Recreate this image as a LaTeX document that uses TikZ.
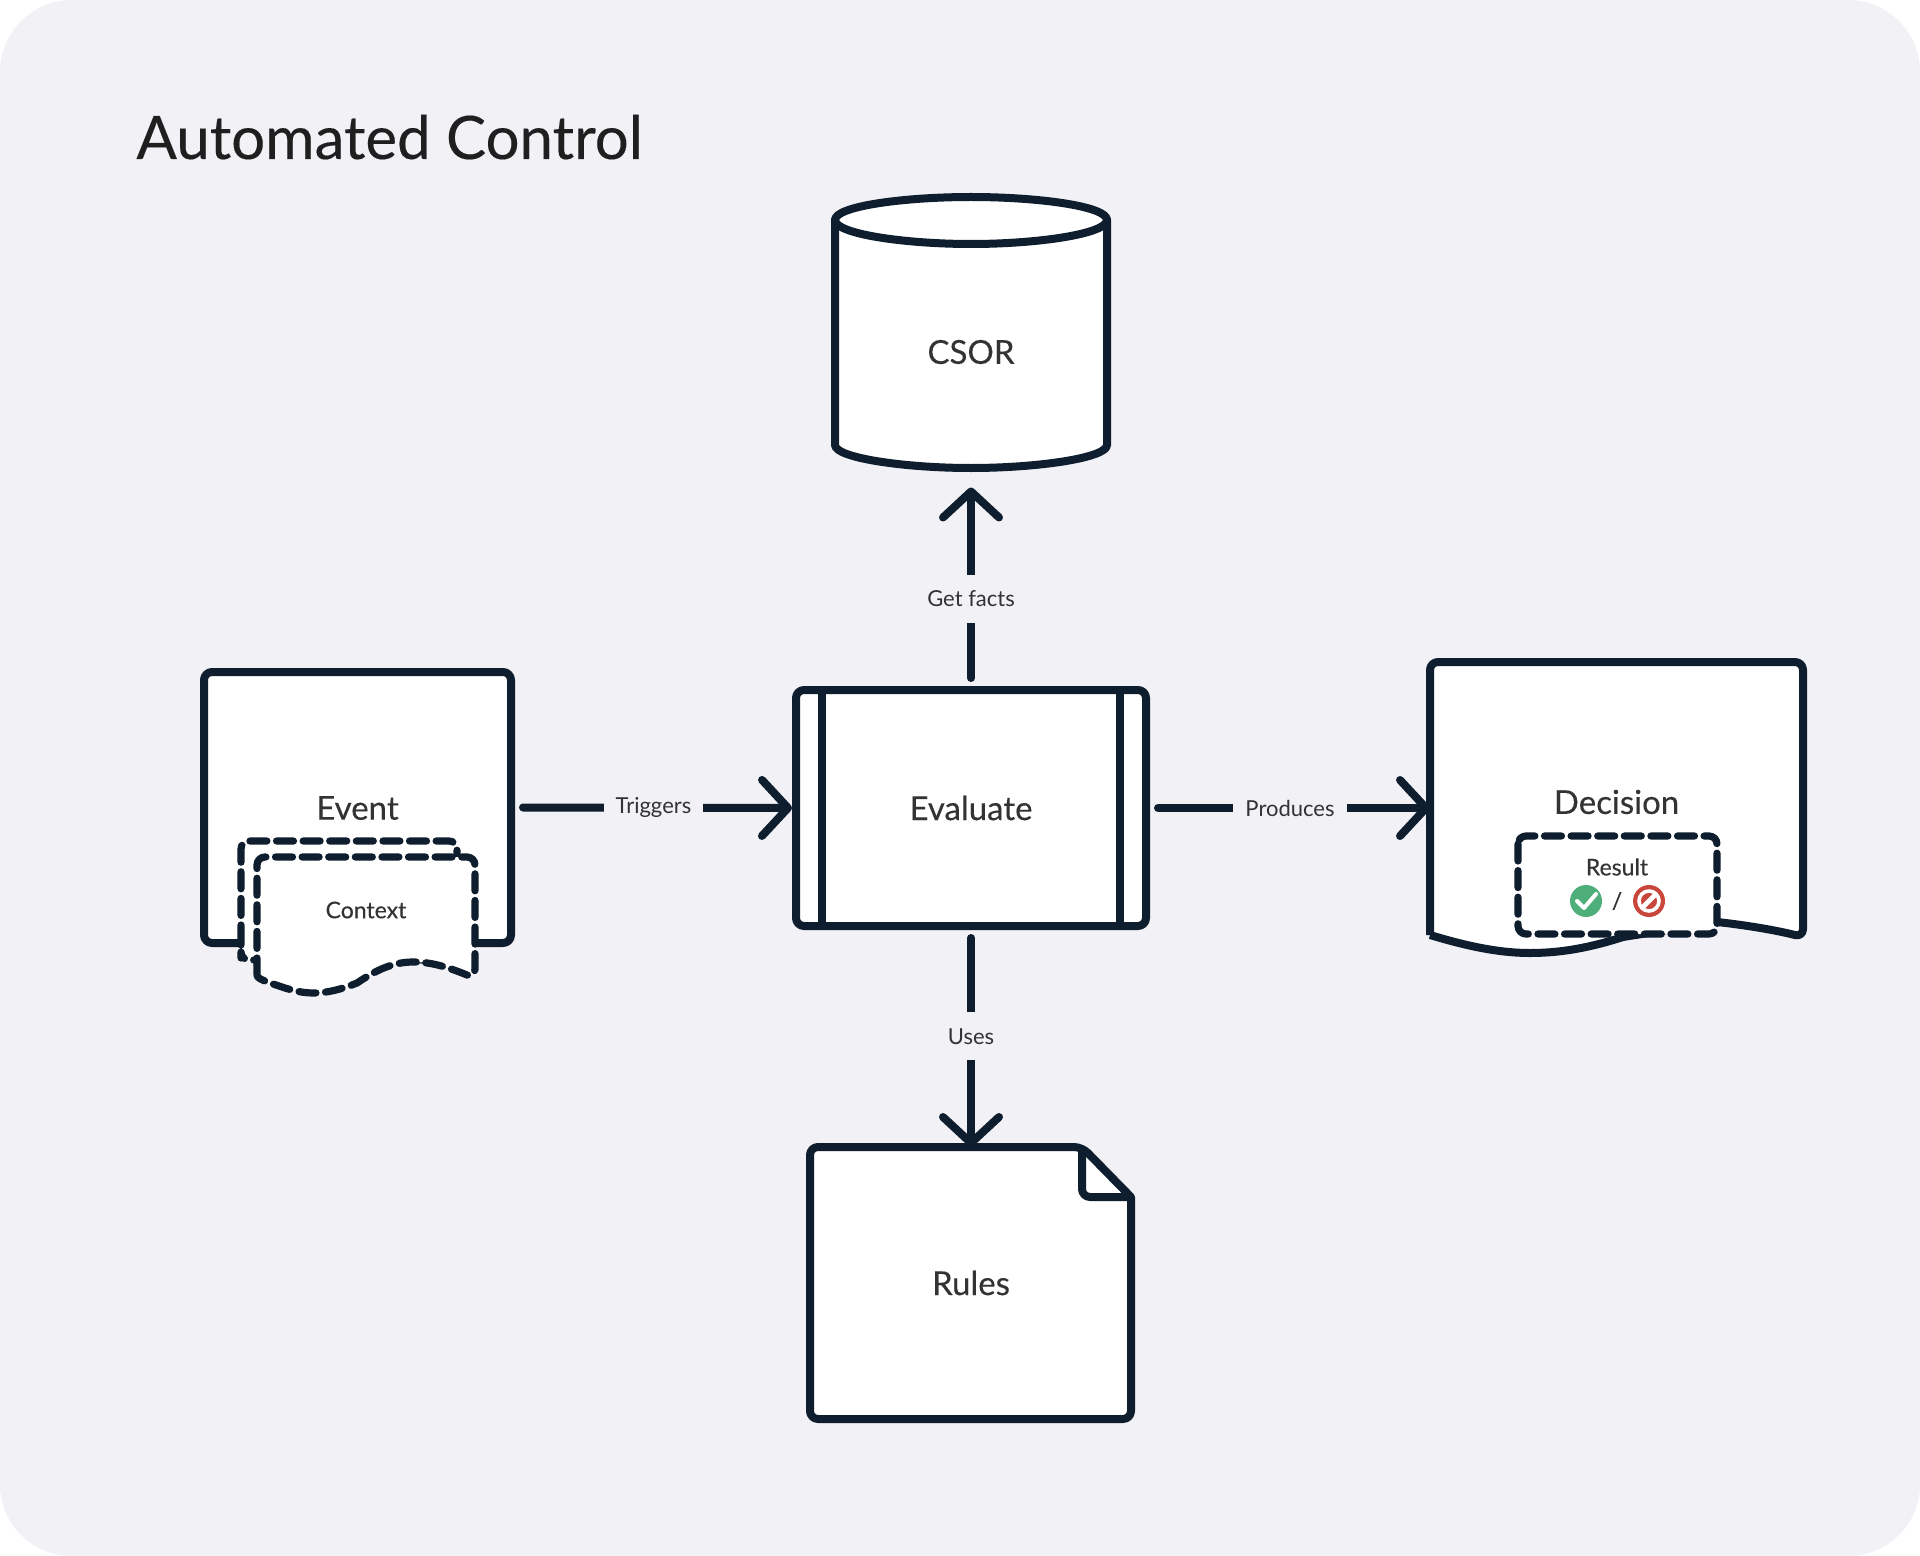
\documentclass[tikz,border=0pt]{standalone}
\usepackage{fontspec}
\setmainfont{Lato}
\newfontfamily\medfont[FakeBold=0.25]{Lato}
\usetikzlibrary{arrows.meta,calc}
\definecolor{bgc}{HTML}{F1F1F6}
\definecolor{ink}{HTML}{0F1E2E}
\definecolor{txt}{HTML}{333333}
\definecolor{okc}{HTML}{4FAF7B}
\definecolor{noc}{HTML}{C9463A}
\tikzset{
  x=0.5pt,y=-0.5pt,
  shapeline/.style={draw=ink,line width=4pt,fill=white,line join=round,rounded corners=4pt},
  dashline/.style={draw=ink,line width=3.6pt,fill=white,line cap=round,line join=round,dash pattern=on 8.5pt off 4.8pt},
  big/.style={font=\medfont\fontsize{16.5}{18}\selectfont,text=txt,inner sep=0pt},
  small/.style={font=\medfont\fontsize{11.5}{13}\selectfont,text=txt,inner sep=0pt},
  edgelabel/.style={font=\fontsize{11}{13}\selectfont,text=txt,fill=bgc,inner ysep=8pt,inner xsep=6pt},
  conn/.style={draw=ink,line width=4pt,line cap=round,-{Straight Barb[length=13pt,width=28pt,line width=4pt,line cap=round,round]}},
  anchorbox/.style={inner sep=0pt,outer sep=0pt,draw=none},
}
\begin{document}
\begin{tikzpicture}
\useasboundingbox (0,0) rectangle (1920,1556);
\fill[white] (0,0) rectangle (1920,1556);
\fill[bgc,rounded corners=36pt] (0,0) rectangle (1920,1556);
\node[anchor=base west,inner sep=0pt,text=black!88,font=\medfont\fontsize{30}{34}\selectfont] (title) at (136,159) {Automated Control};

% CSOR
\path[shapeline,rounded corners=0pt] (835,220) .. controls (835,206) and (905,197) .. (971,197) .. controls (1037,197) and (1107,206) .. (1107,220) -- (1107,445) .. controls (1107,458) and (1037,468) .. (971,468) .. controls (905,468) and (835,458) .. (835,445) -- cycle;
\path[draw=ink,line width=4pt,line cap=round] (835,220) .. controls (835,234) and (905,244) .. (971,244) .. controls (1037,244) and (1107,234) .. (1107,220);
\node[anchorbox,minimum width=136pt,minimum height=135.5pt,big] (csor) at (971,352) {CSOR};

% Evaluate
\node[shapeline,minimum width=175pt,minimum height=118pt,big,inner sep=0pt] (evaluate) at (971,808) {Evaluate};
\draw[draw=ink,line width=4pt] (822,690) -- (822,926) (1120,690) -- (1120,926);

% Event
\node[shapeline,minimum width=153.5pt,minimum height=135.5pt] (event) at (357.5,807.5) {};
\node[big,anchor=center] (eventtext) at (357.5,808) {Event};
\path[dashline,rounded corners=4pt] (241,950) -- (241,841) -- (457,841) -- (457,870) -- (457,960) -- (241,960) -- cycle;
\path[dashline] (257,975) [rounded corners=4pt] -- (257,857) -- (475,857) -- (475,977) [rounded corners=0pt] -- (467,975) .. controls (445,966) and (430,962) .. (413,962) .. controls (390,962) and (372,973) .. (357,983) .. controls (342,989) and (328,993) .. (313,993) .. controls (298,993) and (285,988) .. (270,983) .. controls (262,980) and (257,978) .. (257,975);
\node[small] (context) at (366,910) {Context};

% Decision
\path[shapeline] (1430,935) -- (1430,662) -- (1803,662) -- (1803,937) [rounded corners=0pt] .. controls (1775,930) and (1745,925) .. (1717,922) -- (1623,937) .. controls (1595,946) and (1565,953) .. (1530,953) .. controls (1495,953) and (1460,944) .. (1430,935);
\node[anchorbox,minimum width=186.5pt,minimum height=137pt,big] (decision) at (1616.5,802) {Decision};
\path[dashline,rounded corners=4pt] (1518,836) rectangle (1717,934);
\node[small] (result) at (1617,867) {Result};
\fill[okc] (1586,901) circle[radius=16];
\draw[white,line width=2pt,line cap=round,line join=round] (1577,901) -- (1584,908) -- (1596,894);
\fill[noc] (1649,901) circle[radius=16];
\draw[white,line width=1.8pt] (1649,901) circle[radius=10];
\draw[white,line width=2.4pt] (1642,908) -- (1656,894);
\node[small] (slash) at (1617,901) {/};

% Rules
\path[shapeline] (810,1147) -- (1082,1147) [rounded corners=0pt] -- (1131,1197) [rounded corners=4pt] -- (1131,1419) -- (810,1419) -- cycle;
\draw[draw=ink,line width=4pt,line join=round,rounded corners=4pt] (1082,1147) -- (1082,1197) -- (1131,1197);
\node[anchorbox,minimum width=160pt,minimum height=136pt,big] (rules) at (971,1283) {Rules};

% Connectors
\draw[conn,shorten <=4pt] (evaluate.north) -- node[edgelabel,pos=0.44] (l1) {Get facts} ($(csor.south)+(0,0)$);
\draw[conn,shorten <=4pt] (evaluate.south) -- node[edgelabel,pos=0.49] (l2) {Uses} (rules.north);
\draw[conn,shorten <=4pt] (event.east) -- node[edgelabel] (l3) {Triggers} (evaluate.west);
\draw[conn,shorten <=4pt] (evaluate.east) -- node[edgelabel] (l4) {Produces} (evaluate.east -| decision.west);
\end{tikzpicture}
\end{document}
